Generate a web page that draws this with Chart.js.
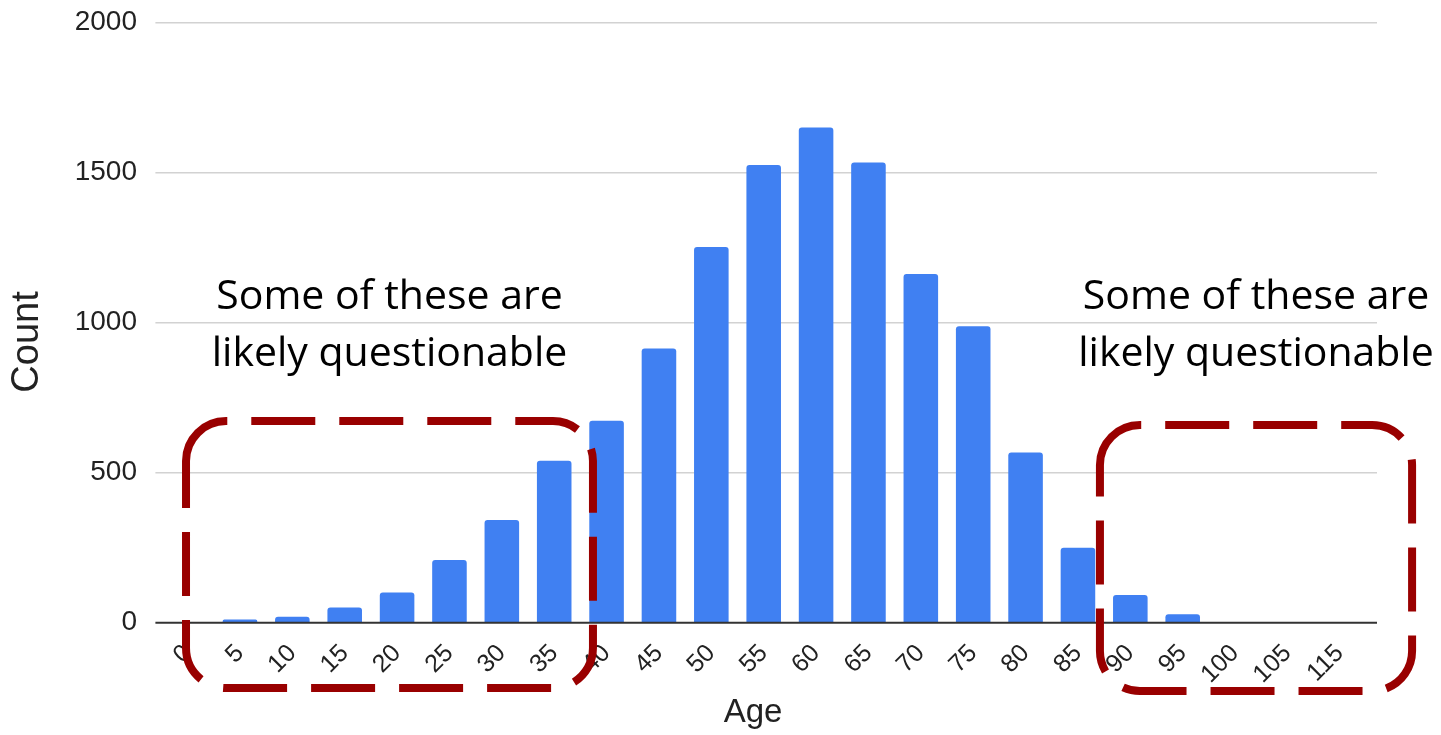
<!DOCTYPE html>
<html>
<head>
<meta charset="utf-8">
<script src="https://cdn.jsdelivr.net/npm/chart.js@4.4.1/dist/chart.umd.min.js"></script>
<style>
  html, body { margin: 0; padding: 0; background: #ffffff; }
  #wrap { position: relative; width: 1441px; height: 735px; }
</style>
</head>
<body>
<div id="wrap"><canvas id="c" width="1441" height="735"></canvas></div>
<script>
// Age bins (5-year steps) and patient counts per bin
const ageBins = ['0', '5', '10', '15', '20', '25', '30', '35', '40', '45', '50', '55',
                 '60', '65', '70', '75', '80', '85', '90', '95', '100', '105', '115'];
const counts  = [1, 11, 20, 51, 101, 209, 342, 540, 673, 914, 1252, 1526,
                 1651, 1534, 1162, 988, 567, 250, 92, 28, 2, 1, 1];

// value axis
const yMin = 0;
const yMax = 2000;
const yStep = 500;

// callout text and the bin ranges each dashed frame surrounds
const noteLines = ['Some of these are', 'likely questionable'];
// [first bin position, last bin position, top value, bottom value] in axis units
const lowFrame  = [-0.03, 7.74, 672, -218];
const highFrame = [17.42, 23.38, 659, -228];

const AXIS_FONT = '"Liberation Sans", Arial, sans-serif';
const NOTE_FONT = '"Open Sans", Lato, sans-serif';

// horizontal grid lines, drawn slightly wider than the plot area
const gridPlugin = {
  id: 'hgrid',
  beforeDatasetsDraw(chart) {
    const { ctx, chartArea, scales: { y } } = chart;
    ctx.save();
    ctx.strokeStyle = '#d2d2d2';
    ctx.lineWidth = 1.5;
    y.ticks.forEach(t => {
      if (t.value === 0) return;
      const py = y.getPixelForValue(t.value);
      ctx.beginPath();
      ctx.moveTo(chartArea.left - 6, py);
      ctx.lineTo(chartArea.right + 11, py);
      ctx.stroke();
    });
    ctx.restore();
  },
  afterDatasetsDraw(chart) {
    const { ctx, chartArea, scales: { y } } = chart;
    const py = y.getPixelForValue(0);
    ctx.save();
    ctx.strokeStyle = '#333333';
    ctx.lineWidth = 2;
    ctx.beginPath();
    ctx.moveTo(chartArea.left - 6, py);
    ctx.lineTo(chartArea.right + 11, py);
    ctx.stroke();
    ctx.restore();
  }
};

// rounded rectangle path that starts on the left side below the top-left corner
function roundedPath(ctx, l, t, r, b, rad) {
  ctx.beginPath();
  ctx.moveTo(l, t + rad);
  ctx.arcTo(l, t, l + rad, t, rad);
  ctx.lineTo(r - rad, t);
  ctx.arcTo(r, t, r, t + rad, rad);
  ctx.lineTo(r, b - rad);
  ctx.arcTo(r, b, r - rad, b, rad);
  ctx.lineTo(l + rad, b);
  ctx.arcTo(l, b, l, b - rad, rad);
  ctx.closePath();
}

// axis titles, dashed callout frames and their captions
const notePlugin = {
  id: 'notes',
  afterDraw(chart) {
    const { ctx, scales: { x, y } } = chart;
    const p0 = x.getPixelForValue(0);
    const step = x.getPixelForValue(1) - p0;
    const xAt = pos => p0 + pos * step;

    ctx.save();
    ctx.fillStyle = '#222222';
    ctx.textAlign = 'center';
    ctx.font = '33px ' + AXIS_FONT;
    ctx.textBaseline = 'alphabetic';
    ctx.fillText('Age', 753, 722);
    ctx.save();
    ctx.translate(28, 342);
    ctx.rotate(-Math.PI / 2);
    ctx.font = '38px ' + AXIS_FONT;
    ctx.textBaseline = 'middle';
    ctx.fillText('Count', 0, 0);
    ctx.restore();

    ctx.strokeStyle = '#990000';
    ctx.lineWidth = 8;
    ctx.setLineDash([64, 24]);
    [lowFrame, highFrame].forEach(f => {
      const l = xAt(f[0]), r = xAt(f[1]);
      const t = y.getPixelForValue(f[2]), b = y.getPixelForValue(f[3]);
      roundedPath(ctx, l, t, r, b, 40);
      ctx.stroke();

      ctx.fillStyle = '#000000';
      ctx.font = '41px ' + NOTE_FONT;
      ctx.textAlign = 'center';
      ctx.textBaseline = 'alphabetic';
      const cx = (l + r) / 2;
      ctx.fillText(noteLines[0], cx, 309);
      ctx.fillText(noteLines[1], cx, 366);
    });
    ctx.restore();
  }
};

new Chart(document.getElementById('c'), {
  type: 'bar',
  data: {
    labels: ageBins,
    datasets: [{
      label: 'Count',
      data: counts,
      backgroundColor: '#4080f2',
      borderRadius: { topLeft: 3, topRight: 3, bottomLeft: 0, bottomRight: 0 },
      borderSkipped: 'start',
      barPercentage: 0.66,
      categoryPercentage: 1.0
    }]
  },
  options: {
    responsive: false,
    animation: false,
    devicePixelRatio: 1,
    layout: { padding: { left: 0, right: 75, top: 22.7, bottom: 0 } },
    plugins: {
      legend: { display: false },
      tooltip: { enabled: false },
      title: { display: false }
    },
    scales: {
      x: {
        grid: { display: false, drawTicks: false },
        border: { display: false },
        ticks: {
          autoSkip: false,
          minRotation: 45,
          maxRotation: 45,
          padding: 16,
          color: '#222222',
          font: { family: AXIS_FONT, size: 25 }
        },
        afterFit(scale) { scale.height = 112.3; }
      },
      y: {
        min: yMin,
        max: yMax,
        grid: { display: false, drawTicks: false },
        border: { display: false },
        ticks: {
          stepSize: yStep,
          padding: 24.4,
          color: '#222222',
          font: { family: AXIS_FONT, size: 28 },
          callback: v => String(v)
        },
        afterFit(scale) {
          scale.width = 161.4;
          // the plot area margins are set by the layout padding alone
          scale.paddingTop = 0;
          scale.paddingBottom = 0;
        }
      }
    }
  },
  plugins: [gridPlugin, notePlugin]
});
</script>
</body>
</html>
